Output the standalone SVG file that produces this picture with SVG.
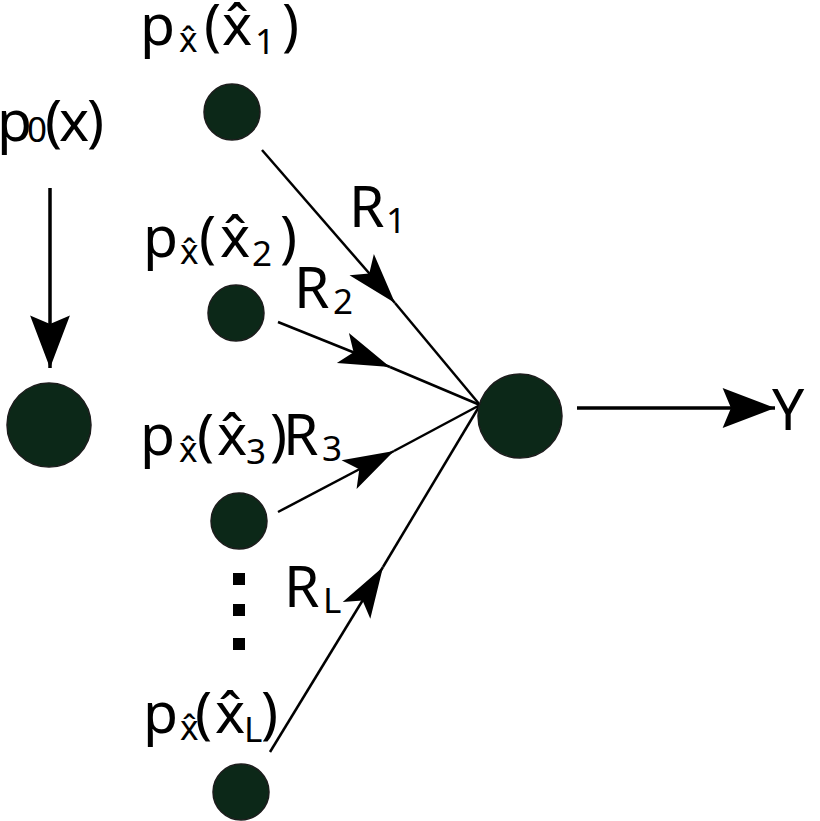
<svg xmlns="http://www.w3.org/2000/svg" width="820" height="821" viewBox="0 0 820 821">
<defs>
<style>
.node{fill:#0c2818;stroke:#1c1c1c;stroke-width:1.5}
.lbl{font-family:"Noto Sans","Open Sans",sans-serif;font-size:57px;fill:#000}
.sub{font-size:35px}
.edge{stroke:#000;stroke-width:2.5;fill:none}
.thick{stroke:#000;stroke-width:3.5;fill:none}
</style>
<marker id="mid" markerUnits="userSpaceOnUse" markerWidth="60" markerHeight="40" viewBox="-47 -17 52 34" refX="0" refY="0" orient="auto">
<path d="M0,0 L-44,-14 L-34,0 L-44,14 Z" fill="#000"/>
</marker>
<marker id="big" markerUnits="userSpaceOnUse" markerWidth="60" markerHeight="44" viewBox="-52 -21 56 42" refX="0" refY="0" orient="auto">
<path d="M0,0 L-50,-19 L-42,0 L-50,19 Z" fill="#000"/>
</marker>
</defs>
<rect width="820" height="821" fill="#fff"/>
<g id="connectors">
<line class="thick" x1="50" y1="188" x2="50" y2="368" marker-end="url(#big)"/>
<line class="thick" x1="577" y1="408" x2="775" y2="408" marker-end="url(#big)"/>
<line class="edge" x1="262" y1="150" x2="395" y2="303" marker-end="url(#mid)"/>
<line class="edge" x1="395" y1="303" x2="480" y2="405"/>
<line class="edge" x1="278" y1="322" x2="390" y2="367" marker-end="url(#mid)"/>
<line class="edge" x1="390" y1="367" x2="480" y2="405"/>
<line class="edge" x1="278" y1="512" x2="394" y2="451" marker-end="url(#mid)"/>
<line class="edge" x1="394" y1="451" x2="480" y2="405"/>
<line class="edge" x1="270" y1="752" x2="383" y2="567" marker-end="url(#mid)"/>
<line class="edge" x1="383" y1="567" x2="480" y2="405"/>
</g>
<g id="node-p0">
<circle class="node" cx="49" cy="425" r="42"/>
<text class="lbl" y="141"><tspan x="-3">p</tspan><tspan class="sub" x="27" dy="1">0</tspan><tspan x="45" dy="-1">(</tspan><tspan x="59">x</tspan><tspan x="87">)</tspan></text>
</g>
<g id="node-x1">
<circle class="node" cx="232" cy="112" r="28"/>
<text class="lbl" y="45"><tspan x="140">p</tspan><tspan class="sub" x="179" dy="7">x̂</tspan><tspan x="204" dy="-7">(</tspan><tspan x="222">x̂</tspan><tspan class="sub" x="255" dy="9">1</tspan><tspan x="282" dy="-9">)</tspan></text>
</g>
<g id="node-x2">
<circle class="node" cx="236" cy="313" r="28"/>
<text class="lbl" y="257"><tspan x="143">p</tspan><tspan class="sub" x="180" dy="7">x̂</tspan><tspan x="199" dy="-7">(</tspan><tspan x="220">x̂</tspan><tspan class="sub" x="252" dy="9">2</tspan><tspan x="280" dy="-9">)</tspan></text>
</g>
<g id="node-x3">
<circle class="node" cx="239" cy="521" r="28"/>
<text class="lbl" y="455"><tspan x="140">p</tspan><tspan class="sub" x="179" dy="7">x̂</tspan><tspan x="197" dy="-7">(</tspan><tspan x="217">x̂</tspan><tspan class="sub" x="246" dy="9">3</tspan><tspan x="270" dy="-9">)</tspan></text>
</g>
<g id="node-xL">
<circle class="node" cx="241" cy="792" r="28"/>
<text class="lbl" y="733"><tspan x="143">p</tspan><tspan class="sub" x="180" dy="7">x̂</tspan><tspan x="195" dy="-7">(</tspan><tspan x="215">x̂</tspan><tspan class="sub" x="244" dy="9">L</tspan><tspan x="261" dy="-9">)</tspan></text>
</g>
<g id="dots">
<rect x="233" y="573" width="12" height="12" fill="#000"/>
<rect x="233" y="604" width="12" height="12" fill="#000"/>
<rect x="233" y="638" width="12" height="12" fill="#000"/>
</g>
<g id="node-out">
<circle class="node" cx="520" cy="416" r="42"/>
</g>
<g id="labels">
<text class="lbl" y="227"><tspan x="349">R</tspan><tspan class="sub" x="386" dy="6">1</tspan></text>
<text class="lbl" y="308"><tspan x="294">R</tspan><tspan class="sub" x="333" dy="6">2</tspan></text>
<text class="lbl" y="455"><tspan x="283">R</tspan><tspan class="sub" x="322" dy="6">3</tspan></text>
<text class="lbl" y="607"><tspan x="284">R</tspan><tspan class="sub" x="323" dy="6">L</tspan></text>
<text class="lbl" x="772" y="430" font-size="62">Y</text>
</g>
</svg>
